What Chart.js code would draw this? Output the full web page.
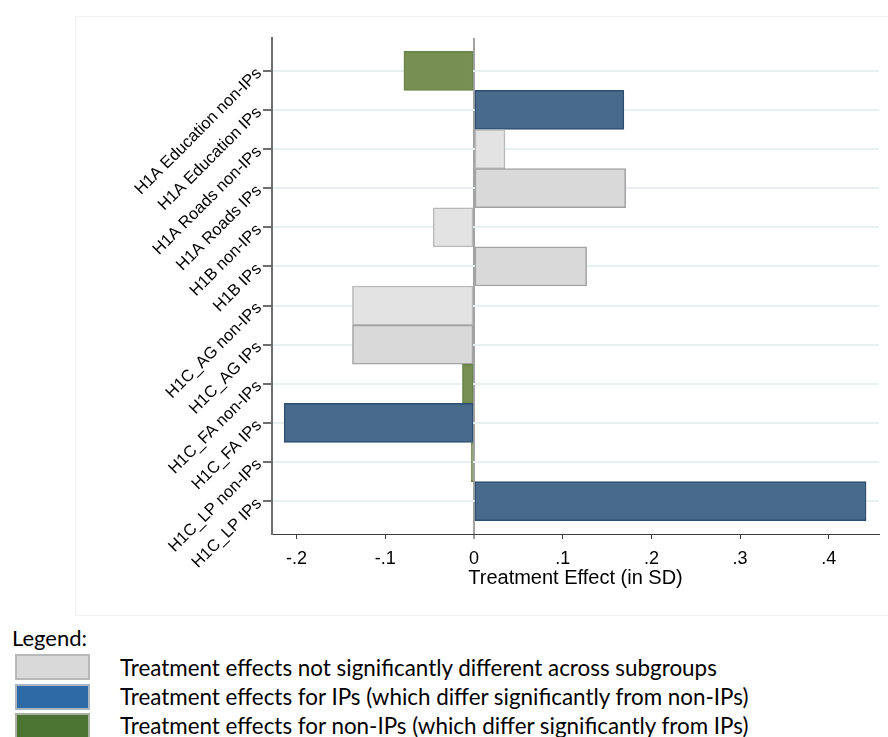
<!DOCTYPE html>
<html>
<head>
<meta charset="utf-8">
<script src="https://cdn.jsdelivr.net/npm/chart.js@4/dist/chart.umd.min.js"></script>
<style>
  html, body { margin: 0; padding: 0; background: #fff; }
  body { width: 888px; height: 737px; position: relative; overflow: hidden; }
  #frame { position: absolute; left: 75px; top: 16px; width: 812px; height: 598px; border: 1px solid #f1f2f2; }
  #wrap { position: absolute; left: 0; top: 0; width: 888px; height: 620px; }
  .lg { position: absolute; font-family: Lato, "Open Sans", sans-serif; font-size: 22.4px; color: #000; white-space: nowrap; line-height: 1; }
  .sw { position: absolute; left: 15px; width: 71px; height: 22px; border: 2px solid #b5b5b5; }
</style>
</head>
<body>
<div id="frame"></div>
<div id="wrap"><canvas id="chart"></canvas></div>

<div class="lg" style="left:12px; top:627px; font-size:22px;">Legend:</div>
<div class="sw" style="top:654px; background:#d9d9d9; border-color:#b8b8b8;"></div>
<div class="sw" style="top:684px; background:#2e6ba6; border-color:#aab6c2;"></div>
<div class="sw" style="top:713px; background:#4b7331; border-color:#aab3a2;"></div>
<div class="lg" style="left:120px; top:657px;">Treatment effects not significantly different across subgroups</div>
<div class="lg" style="left:120px; top:686px;">Treatment effects for IPs (which differ significantly from non-IPs)</div>
<div class="lg" style="left:120px; top:715px;">Treatment effects for non-IPs (which differ significantly from IPs)</div>

<script>
// Outcome / subgroup rows, top to bottom
const categories = [
  'H1A Education non-IPs',
  'H1A Education IPs',
  'H1A Roads non-IPs',
  'H1A Roads IPs',
  'H1B non-IPs',
  'H1B IPs',
  'H1C_AG non-IPs',
  'H1C_AG IPs',
  'H1C_FA non-IPs',
  'H1C_FA IPs',
  'H1C_LP non-IPs',
  'H1C_LP IPs'
];

// Treatment effect estimates (in SD)
const effects = [-0.079, 0.169, 0.035, 0.171, -0.046, 0.127, -0.137, -0.137, -0.013, -0.214, -0.003, 0.442];

// Which subgroup differs significantly: 'IPs', 'non-IPs' or 'none'
const significance = ['non-IPs', 'IPs', 'none', 'none', 'none', 'none', 'none', 'none', 'non-IPs', 'IPs', 'non-IPs', 'IPs'];

// x-axis ticks
const xTickValues = [-0.2, -0.1, 0, 0.1, 0.2, 0.3, 0.4];
const xTickLabels = ['-.2', '-.1', '0', '.1', '.2', '.3', '.4'];

const fills = {
  'IPs': '#496b8b',
  'non-IPs': '#788f53',
  noneNonIP: '#e3e3e3',
  noneIP: '#d9d9d9'
};
const edges = {
  'IPs': '#2d4f71',
  'non-IPs': '#6a8348',
  noneNonIP: '#b9b9b9',
  noneIP: '#a3a3a3'
};
function styleKey(i) {
  if (significance[i] !== 'none') return significance[i];
  return categories[i].endsWith('non-IPs') ? 'noneNonIP' : 'noneIP';
}

const points = effects.map((v, i) => ({ x: v, y: i }));

new Chart(document.getElementById('chart'), {
  type: 'bar',
  data: {
    datasets: [{
      data: points,
      backgroundColor: categories.map((_, i) => fills[styleKey(i)]),
      borderColor: categories.map((_, i) => edges[styleKey(i)]),
      borderWidth: 1.5,
      borderSkipped: false,
      barPercentage: 1,
      categoryPercentage: 1
    }]
  },
  options: {
    indexAxis: 'y',
    responsive: true,
    maintainAspectRatio: false,
    animation: false,
    layout: { padding: { top: 38, right: 9, bottom: 0, left: 0 } },
    plugins: { legend: { display: false }, tooltip: { enabled: false } },
    scales: {
      x: {
        type: 'linear',
        min: -0.2277,
        max: 0.4566,
        afterBuildTicks: (s) => { s.ticks = xTickValues.map(v => ({ value: v })); },
        afterFit: (s) => { s.height = 86; },
        border: { display: true, color: '#3c3c3c', width: 1 },
        grid: {
          color: (c) => (c.tick && c.tick.value === 0) ? '#a3a3a3' : 'rgba(0,0,0,0)',
          lineWidth: (c) => (c.tick && c.tick.value === 0) ? 2 : 1,
          drawTicks: true,
          tickColor: '#3c3c3c',
          tickLength: 5,
          tickWidth: 1
        },
        ticks: {
          color: '#000',
          font: { family: '"Liberation Sans", Arial, sans-serif', size: 18 },
          padding: 9,
          callback: (v) => xTickLabels[xTickValues.indexOf(v)]
        },
        title: {
          display: true,
          text: 'Treatment Effect (in SD)',
          color: '#000',
          font: { family: '"Liberation Sans", Arial, sans-serif', size: 20 },
          padding: { top: 0, bottom: 30 }
        }
      },
      y: {
        type: 'linear',
        reverse: true,
        offset: false,
        min: -0.84,
        max: 11.84,
        afterBuildTicks: (s) => { s.ticks = categories.map((_, i) => ({ value: i })); },
        afterFit: (s) => { s.width = 272; },
        border: { display: true, color: '#6e6e6e', width: 2 },
        grid: {
          offset: false,
          color: '#e9f0f2',
          lineWidth: 2,
          drawTicks: true,
          tickColor: '#6e6e6e',
          tickLength: 9,
          tickWidth: 2
        },
        ticks: {
          color: '#000',
          font: { family: '"Liberation Sans", Arial, sans-serif', size: 16.5 },
          minRotation: 45,
          maxRotation: 45,
          padding: 4,
          callback: (v) => categories[v]
        }
      }
    }
  }
});
</script>
</body>
</html>
